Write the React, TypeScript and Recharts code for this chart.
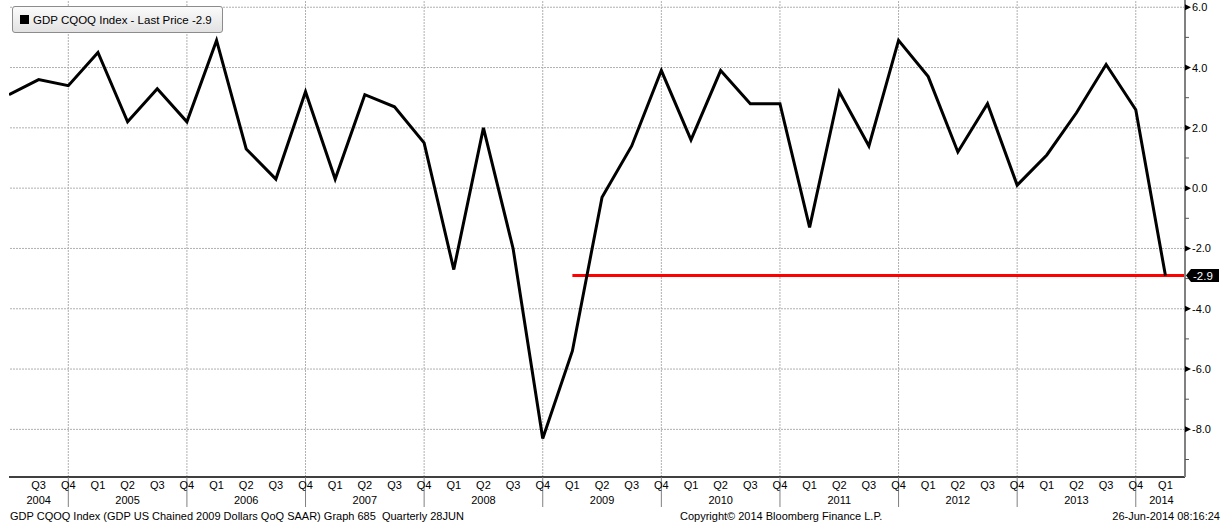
import React from "react";
import { LineChart, Line, XAxis, YAxis, ReferenceLine } from "recharts";

const periods = [
  "2004 Q2", "2004 Q3", "2004 Q4",
  "2005 Q1", "2005 Q2", "2005 Q3", "2005 Q4",
  "2006 Q1", "2006 Q2", "2006 Q3", "2006 Q4",
  "2007 Q1", "2007 Q2", "2007 Q3", "2007 Q4",
  "2008 Q1", "2008 Q2", "2008 Q3", "2008 Q4",
  "2009 Q1", "2009 Q2", "2009 Q3", "2009 Q4",
  "2010 Q1", "2010 Q2", "2010 Q3", "2010 Q4",
  "2011 Q1", "2011 Q2", "2011 Q3", "2011 Q4",
  "2012 Q1", "2012 Q2", "2012 Q3", "2012 Q4",
  "2013 Q1", "2013 Q2", "2013 Q3", "2013 Q4",
  "2014 Q1",
];

const gdpQoQ = [
  3.1, 3.6, 3.4,
  4.5, 2.2, 3.3, 2.2,
  4.9, 1.3, 0.3, 3.2,
  0.3, 3.1, 2.7, 1.5,
  -2.7, 2.0, -2.0, -8.3,
  -5.4, -0.3, 1.4, 3.9,
  1.6, 3.9, 2.8, 2.8,
  -1.3, 3.2, 1.4, 4.9,
  3.7, 1.2, 2.8, 0.1,
  1.1, 2.5, 4.1, 2.6,
  -2.9,
];

const majorTicks = [-8, -6, -4, -2, 0, 2, 4, 6];
const minorTicks = [-9, -7, -5, -3, -1, 1, 3, 5];
const yDomain = [-9.58, 6.24];
const refStartPeriod = "2009 Q1";

const legendText = "GDP CQOQ Index - Last Price";
const footerLeft = "GDP CQOQ Index (GDP US Chained 2009 Dollars QoQ SAAR) Graph 685  Quarterly 28JUN";
const footerCenter = "Copyright\u00A9 2014 Bloomberg Finance L.P.";
const footerRight = "26-Jun-2014 08:16:24";

const FONT = "'Liberation Sans', Arial, sans-serif";

const data = periods.map((p, i) => ({ i, period: p, gdp: gdpQoQ[i] }));
const lastValue = gdpQoQ[gdpQoQ.length - 1];
const lastIndex = periods.length - 1;
const xMax = lastIndex + 0.66;
const xTicks = periods.map((_, i) => i).filter((i) => i > 0);
const q4Indices = periods.map((p, i) => (p.endsWith("Q4") ? i : -1)).filter((i) => i >= 0);
const refStart = periods.indexOf(refStartPeriod);

const XTick = (props: any) => {
  const { x, y, payload } = props;
  const idx = payload.value as number;
  const p = periods[idx];
  if (!p) return null;
  const [year, q] = p.split(" ");
  let showYear = false;
  let dx = 0;
  if (q === "Q2") showYear = true;
  if (idx === 1 && periods[0].endsWith("Q2")) showYear = true;
  if (idx === lastIndex && q === "Q1") {
    showYear = true;
    dx = -4;
  }
  return (
    <g>
      {q === "Q4" && <line x1={x} x2={x} y1={y} y2={y + 30} stroke="#808080" strokeWidth={1} />}
      <text x={x} y={y + 12} textAnchor="middle" fontSize={11} fontFamily={FONT} fill="#000">
        {q}
      </text>
      {showYear && (
        <text x={x + dx} y={y + 27} textAnchor="middle" fontSize={11} fontFamily={FONT} fill="#000">
          {year}
        </text>
      )}
    </g>
  );
};

const YTick = (props: any) => {
  const { x, y, payload } = props;
  const v = payload.value as number;
  if (v === lastValue) {
    return (
      <g>
        <path d={`M${x + 1},${y} L${x + 6},${y - 6.5} L${x + 34},${y - 6.5} L${x + 34},${y + 6.5} L${x + 6},${y + 6.5} Z`} fill="#000" />
        <text x={x + 8} y={y + 4} fontSize={11.5} fontFamily={FONT} fill="#fff">
          {v.toFixed(1)}
        </text>
      </g>
    );
  }
  if (majorTicks.includes(v)) {
    return (
      <g>
        <path d={`M${x},${y - 3} L${x + 6},${y} L${x},${y + 3} Z`} fill="#000" />
        <text x={x + 7} y={y + 4} fontSize={11} fontFamily={FONT} fill="#000">
          {v.toFixed(1)}
        </text>
      </g>
    );
  }
  return <line x1={x} x2={x + 4} y1={y} y2={y} stroke="#555" strokeWidth={1} />;
};

export default function App() {
  return (
    <div style={{ position: "absolute", left: 0, top: 0, width: 1223, height: 522, background: "#fff" }}>
      <LineChart
        width={1223}
        height={522}
        data={data}
        margin={{ top: 0, right: 0, bottom: 0, left: 9 }}
      >
        <XAxis
          dataKey="i"
          type="number"
          domain={[0, xMax]}
          ticks={xTicks}
          interval={0}
          tick={<XTick />}
          tickLine={false}
          tickSize={0}
          tickMargin={0}
          height={45}
          axisLine={{ stroke: "#000", strokeWidth: 1.5 }}
          allowDataOverflow
        />
        <YAxis
          orientation="right"
          type="number"
          domain={yDomain}
          ticks={[...minorTicks, ...majorTicks, lastValue]}
          interval={0}
          tick={<YTick />}
          tickLine={false}
          tickSize={0}
          tickMargin={0}
          width={38}
          axisLine={{ stroke: "#808080", strokeWidth: 2 }}
          allowDataOverflow
        />
        {majorTicks.map((t) => (
          <ReferenceLine key={`h${t}`} y={t} stroke="#b0b0b0" strokeDasharray="2 1" strokeWidth={1} />
        ))}
        {q4Indices.map((i) => (
          <ReferenceLine key={`v${i}`} x={i} stroke="#b0b0b0" strokeDasharray="2 1" strokeWidth={1} />
        ))}
        <ReferenceLine
          segment={[
            { x: refStart, y: lastValue },
            { x: xMax, y: lastValue },
          ]}
          stroke="#ff0000"
          strokeWidth={3}
        />
        <Line
          type="linear"
          dataKey="gdp"
          stroke="#000"
          strokeWidth={3}
          dot={false}
          activeDot={false}
          isAnimationActive={false}
        />
      </LineChart>

      <div
        style={{
          position: "absolute",
          left: 12,
          top: 6,
          width: 209,
          height: 25,
          border: "1px solid #8c8c8c",
          borderRadius: 3,
          background: "linear-gradient(#fbfbfb, #e2e2e2)",
          boxSizing: "content-box",
          fontFamily: FONT,
          fontSize: 11.5,
          color: "#000",
          display: "flex",
          alignItems: "center",
          whiteSpace: "pre",
        }}
      >
        <span style={{ display: "inline-block", width: 9, height: 9, background: "#000", marginLeft: 7, marginRight: 4 }} />
        <span>{`${legendText} ${lastValue.toFixed(1)}`}</span>
      </div>

      <svg style={{ position: "absolute", left: 0, top: 0, pointerEvents: "none" }} width={1223} height={522}>
        <text x={10} y={520} fontSize={11} fontFamily={FONT} fill="#000" style={{ whiteSpace: "pre" }}>
          {footerLeft}
        </text>
        <text x={680} y={520} fontSize={11} fontFamily={FONT} fill="#000">
          {footerCenter}
        </text>
        <text x={1220} y={520} fontSize={11} fontFamily={FONT} fill="#000" textAnchor="end">
          {footerRight}
        </text>
      </svg>
    </div>
  );
}
